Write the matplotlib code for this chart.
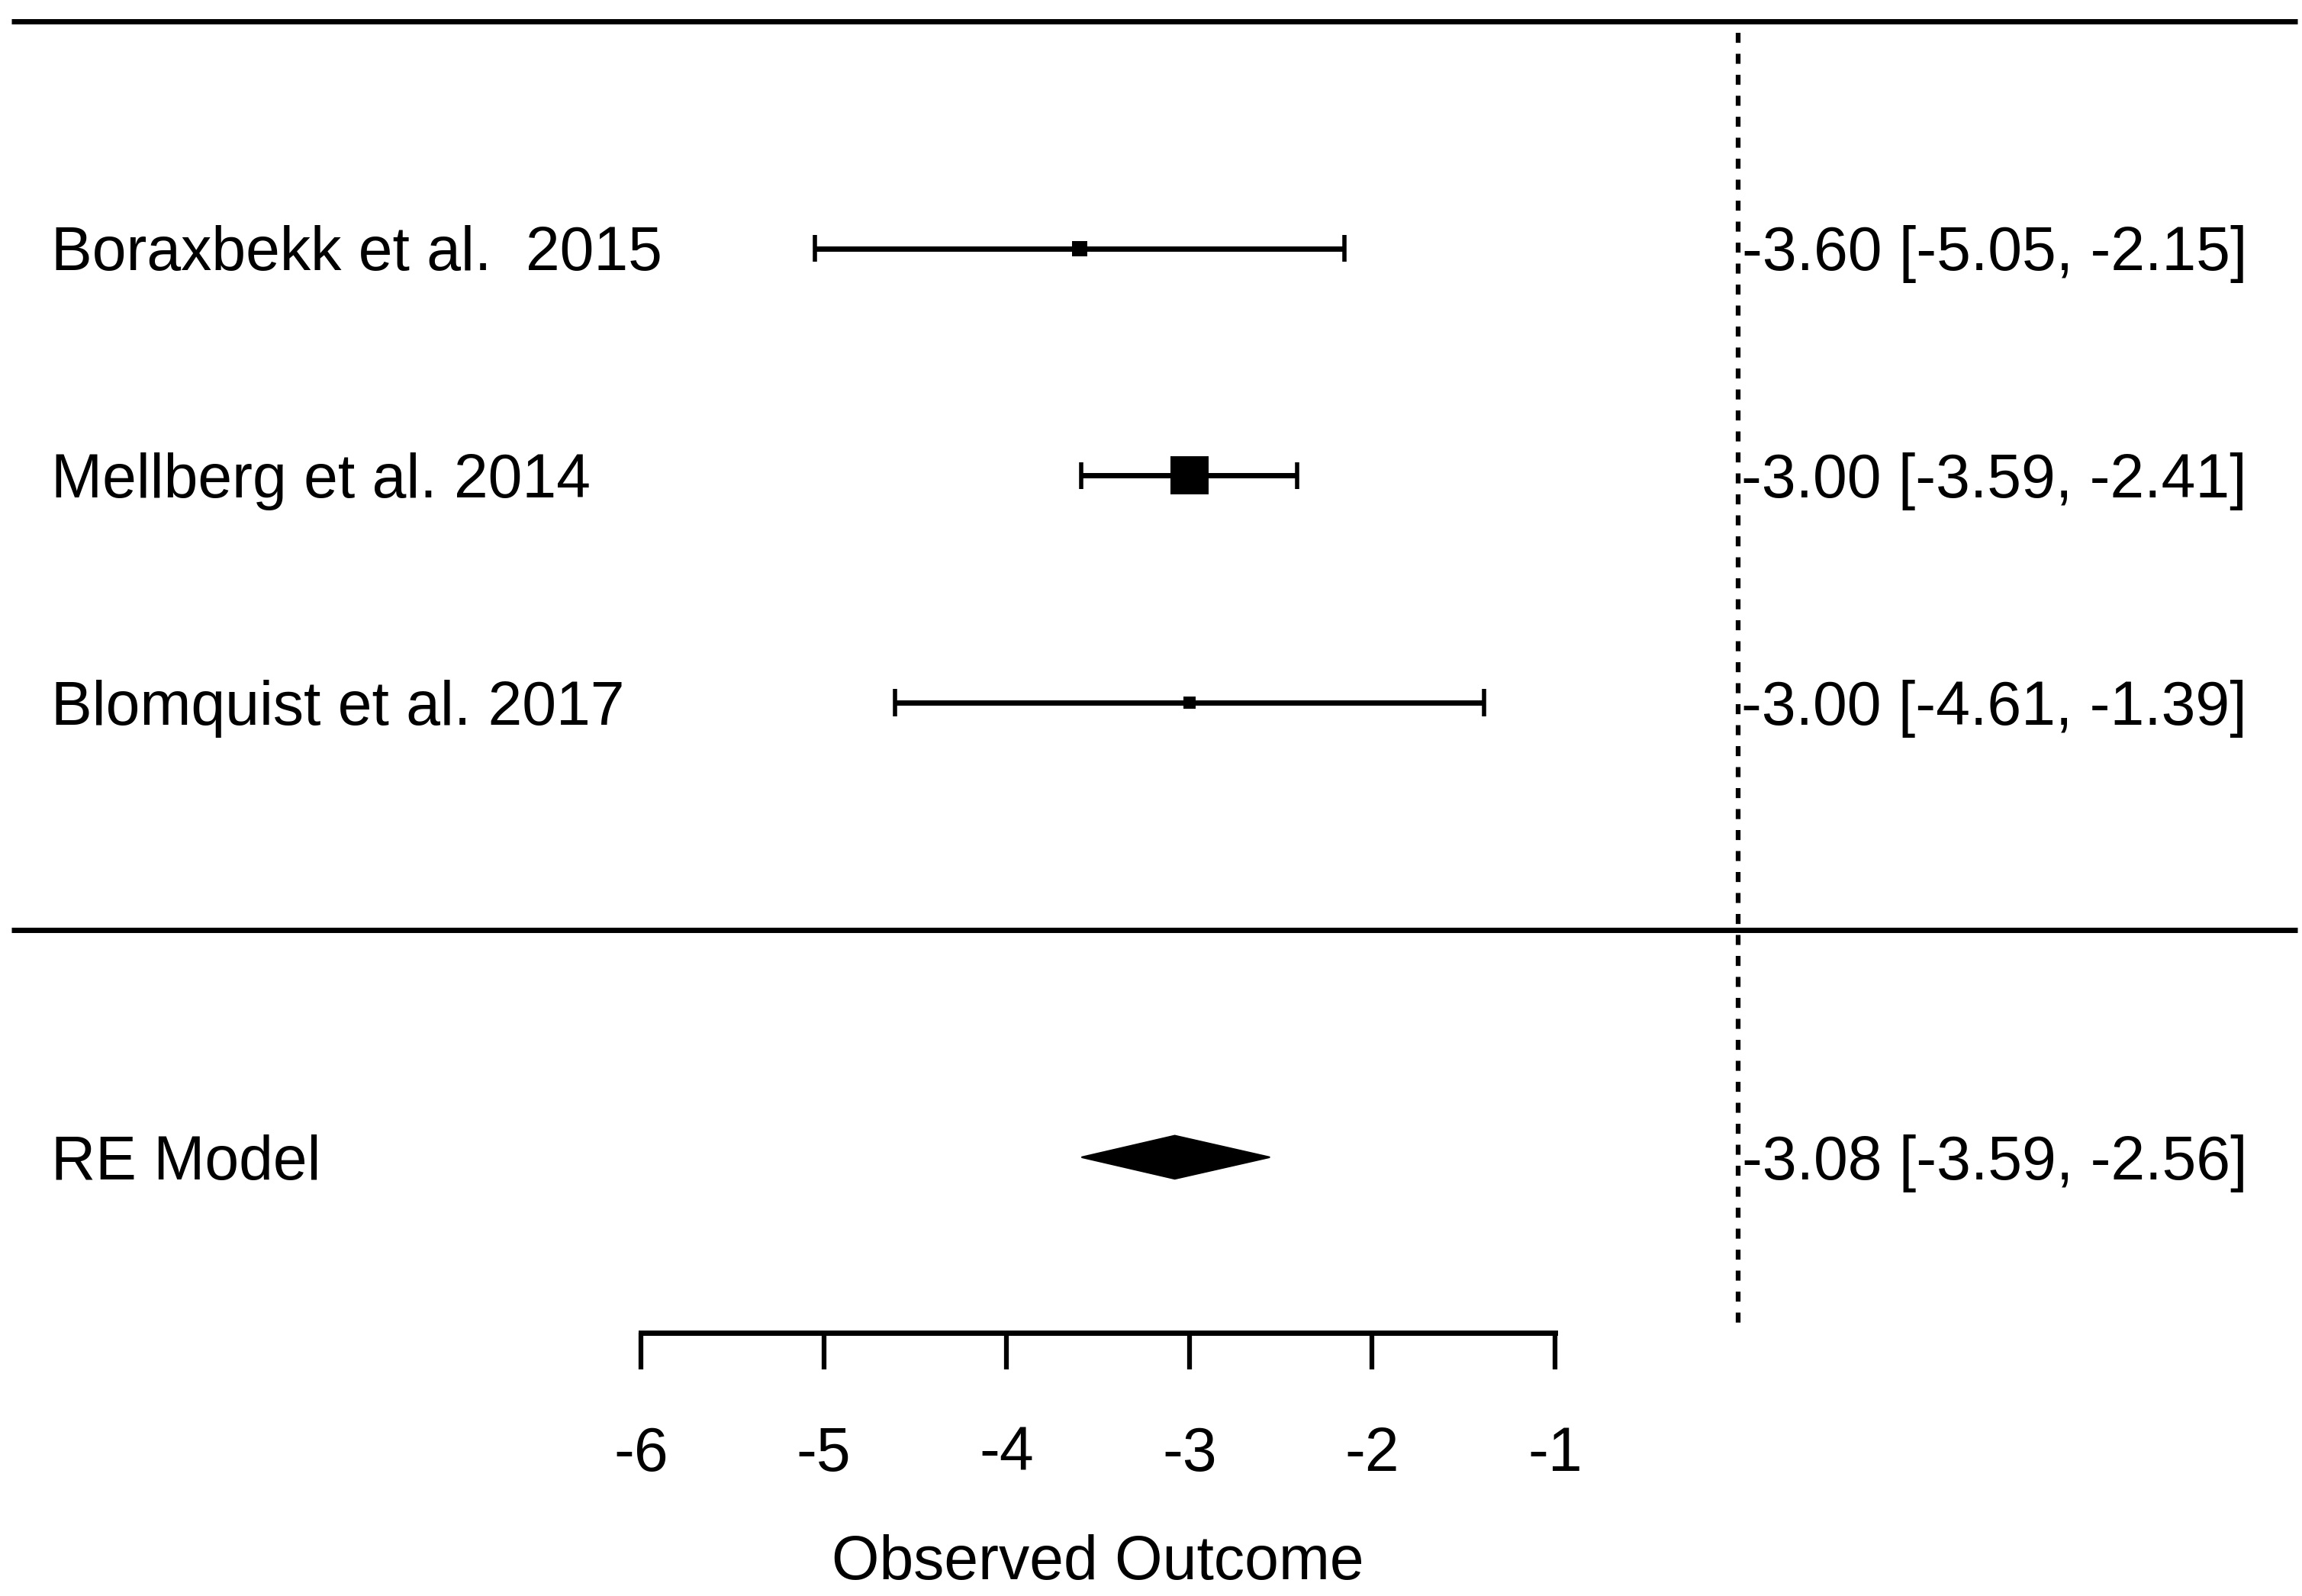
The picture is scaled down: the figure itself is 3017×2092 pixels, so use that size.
import numpy as np
import matplotlib
matplotlib.use("Agg")
import matplotlib.pyplot as plt
from matplotlib.patches import Polygon
from matplotlib import transforms

# ---------------- data ----------------
studies = ["Boraxbekk et al.  2015", "Mellberg et al. 2014", "Blomquist et al. 2017"]
estimates = [-3.60, -3.00, -3.00]
ci_lower = [-5.05, -3.59, -4.61]
ci_upper = [-2.15, -2.41, -1.39]
weights = [12.8, 76.9, 10.3]          # relative study weights (%)
model_label = "RE Model"
model_est = -3.08
model_lower = -3.59
model_upper = -2.56
xticks = [-6, -5, -4, -3, -2, -1]
xtick_labels = ["-6", "-5", "-4", "-3", "-2", "-1"]
xlabel = "Observed Outcome"
refline = 0

# ---------------- figure ----------------
plt.rcParams['font.family'] = ['Liberation Sans', 'DejaVu Sans']
plt.rcParams['axes.unicode_minus'] = False
DPI = 100
fig = plt.figure(figsize=(30.17, 20.92), dpi=DPI)
ax = fig.add_axes([0, 0, 1, 1])
ax.set_xlim(-9.506, 3.086)
ax.set_ylim(-2.931, 4.093)
ax.patch.set_visible(False)

FS = 58
LW = 5.0
k = len(studies)
rows = np.arange(k, 0, -1)

# vertical offset so text is centred on cap height
def cap_center(fs):
    return transforms.offset_copy(ax.transData, fig=fig, x=0, y=-0.358 * fs, units='points')
tr = cap_center(FS)

# horizontal rules
x_left, x_right = -9.443, 3.061
ax.plot([x_left, x_right], [k + 1, k + 1], color='black', lw=LW, solid_capstyle='butt')
ax.plot([x_left, x_right], [0, 0], color='black', lw=LW, solid_capstyle='butt')

# reference line
axis_row = -1.773
ax.plot([refline, refline], [k + 0.95, axis_row], color='black', lw=4.5,
        linestyle=(0, (2.1, 2.3)), dash_capstyle='butt')

# study CIs and squares
w = np.array(weights)
frac = (w - w.min()) / (w.max() - w.min())
sides_px = 16 + 34 * frac ** 0.6
cap_h = 0.06
for r, est, lo, hi, s in zip(rows, estimates, ci_lower, ci_upper, sides_px):
    ax.plot([lo, hi], [r, r], color='black', lw=LW, solid_capstyle='butt')
    ax.plot([lo, lo], [r - cap_h, r + cap_h], color='black', lw=LW * 0.8, solid_capstyle='butt')
    ax.plot([hi, hi], [r - cap_h, r + cap_h], color='black', lw=LW * 0.8, solid_capstyle='butt')
    ax.plot([est], [r], marker='s', markersize=s * 72 / DPI, color='black',
            markeredgewidth=0, linestyle='none')

# summary diamond
dh = 0.095
diamond = Polygon([[model_lower, -1], [model_est, -1 + dh], [model_upper, -1], [model_est, -1 - dh]],
                  closed=True, facecolor='black', edgecolor='black', lw=1.5)
ax.add_patch(diamond)

# left labels
x_lab = -9.226
for r, name in zip(rows, studies):
    ax.text(x_lab, r, name, fontsize=FS, ha='left', va='baseline', transform=tr)
ax.text(x_lab, -1, model_label, fontsize=FS, ha='left', va='baseline', transform=tr)

# right annotations
x_ann = 2.786
for r, est, lo, hi in zip(rows, estimates, ci_lower, ci_upper):
    ax.text(x_ann, r, f"{est:.2f} [{lo:.2f}, {hi:.2f}]", fontsize=FS, ha='right',
            va='baseline', transform=tr)
ax.text(x_ann, -1, f"{model_est:.2f} [{model_lower:.2f}, {model_upper:.2f}]", fontsize=FS,
        ha='right', va='baseline', transform=tr)

# x axis (bottom spine placed inside the plot)
for side in ['top', 'left', 'right']:
    ax.spines[side].set_visible(False)
ax.spines['bottom'].set_position(('data', axis_row))
ax.spines['bottom'].set_bounds(xticks[0], xticks[-1])
ax.spines['bottom'].set_linewidth(LW)
ax.spines['bottom'].set_capstyle('projecting')
ax.set_xticks(xticks)
ax.set_xticklabels([])
ax.tick_params(axis='x', direction='out', length=48 * 72 / DPI, width=LW * 0.9, color='black')
ax.set_yticks([])

tick_row = -2.283
for t, lab in zip(xticks, xtick_labels):
    ax.text(t, tick_row, lab, fontsize=FS, ha='center', va='baseline', transform=tr)
ax.text(np.mean([xticks[0], xticks[-1]]), -2.760, xlabel, fontsize=FS, ha='center',
        va='baseline', transform=tr)

fig.savefig("out.png", dpi=DPI, facecolor='white')
